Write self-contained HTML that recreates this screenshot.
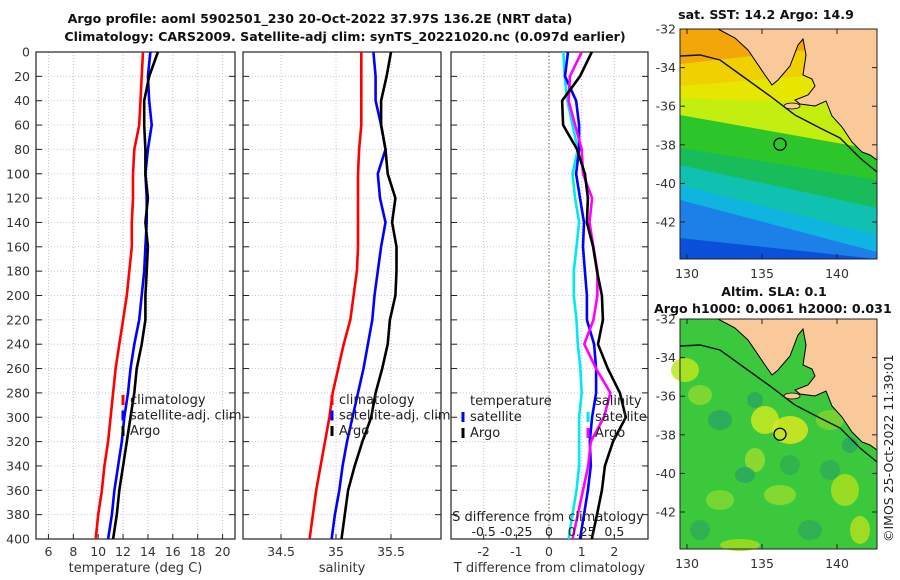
<!DOCTYPE html>
<html><head><meta charset="utf-8"><style>
body{margin:0;background:#fff}
svg{display:block;font-family:"DejaVu Sans","Liberation Sans",sans-serif}
</style></head><body>
<svg id="c" width="900" height="580" viewBox="0 0 900 580" xmlns="http://www.w3.org/2000/svg">
<g font-weight="bold" font-size="12.6" fill="#111">
<text x="320" y="23" text-anchor="middle">Argo profile: aoml 5902501_230 20-Oct-2022 37.97S 136.2E (NRT data)</text>
<text x="345" y="41" text-anchor="middle">Climatology: CARS2009. Satellite-adj clim: synTS_20221020.nc (0.097d earlier)</text>
<text x="766" y="19" text-anchor="middle">sat. SST: 14.2 Argo: 14.9</text>
<text x="774" y="296" text-anchor="middle">Altim. SLA: 0.1</text>
<text x="654" y="313">Argo h1000: 0.0061 h2000: 0.031</text>
</g>
<text transform="translate(893,542) rotate(-90)" font-size="12.5" fill="#222">©IMOS 25-Oct-2022 11:39:01</text>
</svg>
<script>
// ---- data ----
const depths=[0,20,40,60,80,100,120,140,160,180,200,220,240,260,280,300,320,340,360,380,400];
const depthTicks=[0,20,40,60,80,100,120,140,160,180,200,220,240,260,280,300,320,340,360,380,400];
const tempClim=[13.6,13.5,13.4,13.3,12.9,12.8,12.8,12.7,12.7,12.5,12.3,12.0,11.7,11.4,11.2,11.0,10.8,10.5,10.3,10.0,9.8];
const tempSat=[14.2,14.0,14.1,14.3,14.0,13.8,13.9,13.9,13.8,13.7,13.5,13.3,12.9,12.6,12.4,12.1,11.9,11.6,11.3,11.1,10.8];
const tempArgo=[14.8,14.1,13.7,13.7,13.8,13.8,14.0,13.8,14.0,13.9,13.8,13.8,13.5,13.1,12.9,12.6,12.3,12.0,11.7,11.5,11.2];
const salClim=[35.23,35.23,35.23,35.23,35.21,35.20,35.20,35.20,35.20,35.19,35.16,35.13,35.07,35.02,34.97,34.94,34.90,34.86,34.82,34.79,34.76];
const salSat=[35.34,35.36,35.36,35.41,35.45,35.38,35.40,35.45,35.41,35.38,35.35,35.33,35.29,35.25,35.20,35.15,35.10,35.06,35.03,34.99,34.96];
const salArgo=[35.50,35.46,35.41,35.41,35.45,35.47,35.54,35.51,35.55,35.55,35.54,35.49,35.47,35.42,35.36,35.32,35.24,35.17,35.11,35.08,35.05];
const tDiffSat=[0.58,0.49,0.83,0.92,0.92,0.83,0.95,1.07,1.04,1.10,1.16,1.16,1.38,1.44,1.44,1.32,1.25,1.28,1.19,1.07,0.95];
const tDiffArgo=[1.31,0.95,0.40,0.43,0.86,1.10,1.19,1.16,1.35,1.47,1.62,1.65,1.50,1.80,2.17,2.35,1.96,1.71,1.62,1.47,1.31];
const sDiffSat=[0.11,0.12,0.14,0.18,0.22,0.18,0.20,0.23,0.21,0.19,0.19,0.21,0.22,0.24,0.25,0.23,0.23,0.23,0.21,0.18,0.15];
const sDiffArgo=[0.25,0.16,0.15,0.20,0.25,0.26,0.33,0.31,0.34,0.37,0.37,0.34,0.27,0.36,0.47,0.42,0.32,0.30,0.26,0.22,0.18];
const tempTicks=[6,8,10,12,14,16,18,20];
const salTicks=[34.5,35,35.5];
const tDiffTicks=[-2,-1,0,1,2];
const sDiffTicks=[-0.5,-0.25,0,0.25,0.5];
const sDiffTickLabels=["-0.5","-0.25","0","0.25","0.5"];
const latTicks=[-32,-34,-36,-38,-40,-42];
const lonTicks=[130,135,140];
const argoLon=136.2, argoLat=-37.97;

const NS='http://www.w3.org/2000/svg';
const svg=document.getElementById('c');
function mk(tag,attrs,parent){const e=document.createElementNS(NS,tag);for(const k in attrs)e.setAttribute(k,attrs[k]);(parent||svg).appendChild(e);return e;}
const Y0=52,Y1=539;
const yScale=d=>Y0+d*(Y1-Y0)/400;
function lin(d0,d1,r0,r1){return v=>r0+(v-d0)*(r1-r0)/(d1-d0);}
const panels=[
 {name:'temperature-panel',x0:36,x1:235,sx:lin(5,21,36,235),ticks:tempTicks,labels:tempTicks.map(String),xlabel:'temperature (deg C)'},
 {name:'salinity-panel',x0:243,x1:441,sx:lin(34.1545,35.9545,243,441),ticks:salTicks,labels:salTicks.map(String),xlabel:'salinity'},
 {name:'difference-panel',x0:451,x1:648,sx:lin(-3,3.03,451,648),ticks:tDiffTicks,labels:tDiffTicks.map(String),xlabel:'T difference from climatology'}
];
panels.forEach((p,i)=>{
 const g=mk('g',{});
 
 
 p.ticks.forEach(t=>{
  const x=p.sx(t);
  const l=mk('line',{x1:x,x2:x,y1:Y0,y2:Y1,stroke:(i==2&&t==0)?'#556b2f':'#c8b8d8','stroke-width':1,'stroke-dasharray':(i==2&&t==0)?'1.5,2':'1,2'},g);
  
  
  mk('line',{x1:x,x2:x,y1:Y1,y2:Y1-5,stroke:'#222'},g);
  const tx=mk('text',{x:x,y:556,'text-anchor':'middle','font-size':12.5,fill:'#333'},g);
  tx.textContent=p.labels[p.ticks.indexOf(t)];
  
  
 });
 depthTicks.forEach(d=>{
  const y=yScale(d);
  mk('line',{x1:p.x0,x2:p.x1,y1:y,y2:y,stroke:'#c8c8e8','stroke-width':1,'stroke-dasharray':'1,2'},g);
  mk('line',{x1:p.x0,x2:p.x0+6,y1:y,y2:y,stroke:'#222'},g);
  mk('line',{x1:p.x1,x2:p.x1-6,y1:y,y2:y,stroke:'#222'},g);
  if(i==0){const t=mk('text',{x:30,y:y+4.5,'text-anchor':'end','font-size':12.5,fill:'#333'},g);t.textContent=d;
   
   }
 });
 const fr=mk('rect',{x:p.x0,y:Y0,width:p.x1-p.x0,height:Y1-Y0,fill:'none',stroke:'#222','stroke-width':1.2},g);
 
 
 const xl=mk('text',{x:(p.x0+p.x1)/2,y:572,'text-anchor':'middle','font-size':13,fill:'#333'},g);
 xl.textContent=p.xlabel;
 
 
 p.g=g;
});
function line(p,vals,color,name,sx){
 const f=sx||p.sx;
 const pts=vals.map((v,k)=>f(v).toFixed(1)+','+yScale(depths[k]).toFixed(1)).join(' ');
 const e=mk('polyline',{points:pts,fill:'none',stroke:color,'stroke-width':2.6,'stroke-linejoin':'round'},p.g);
 
 
}
line(panels[0],tempClim,'#ff0000','temp-climatology-line');
line(panels[0],tempSat,'#0000ff','temp-satellite-line');
line(panels[0],tempArgo,'#000000','temp-argo-line');
line(panels[1],salClim,'#ff0000','sal-climatology-line');
line(panels[1],salSat,'#0000ff','sal-satellite-line');
line(panels[1],salArgo,'#000000','sal-argo-line');
const sDiffScale=lin(-0.75,0.7575,451,648);
line(panels[2],sDiffSat,'#00e8f0','sdiff-satellite-line',sDiffScale);
line(panels[2],tDiffSat,'#0000ff','tdiff-satellite-line');
line(panels[2],sDiffArgo,'#ff00ff','sdiff-argo-line',sDiffScale);
line(panels[2],tDiffArgo,'#000000','tdiff-argo-line');
{const g=panels[2].g;
 const t=mk('text',{x:548,y:521,'text-anchor':'middle','font-size':13,fill:'#222'},g);t.textContent='S difference from climatology';
 
 
 sDiffTicks.forEach((v,k)=>{const e=mk('text',{x:sDiffScale(v),y:536,'text-anchor':'middle','font-size':12.5,fill:'#222'},g);e.textContent=sDiffTickLabels[k];
  
  });
}
function legend(x,entries,title){
 const g=mk('g',{});
 
 
 if(title){const t=mk('text',{x:x+7,y:405,'font-size':13,fill:'#222'},g);t.textContent=title;}
 entries.forEach(([c,lab],k)=>{
  const yy=(title?421:404)+k*(title?16:15.5);
  mk('line',{x1:x,x2:x,y1:yy-9,y2:yy+1,stroke:c,'stroke-width':3},g);
  const t=mk('text',{x:x+7,y:yy,'font-size':13,fill:'#222'},g);t.textContent=lab;
  
  
 });
}
legend(123,[['#ff0000','climatology'],['#0000ff','satellite-adj. clim'],['#000','Argo']]);
legend(332,[['#ff0000','climatology'],['#0000ff','satellite-adj. clim'],['#000','Argo']]);
legend(463,[['#0000ff','satellite'],['#000','Argo']],'temperature');
legend(588,[['#00e8f0','satellite'],['#ff00ff','Argo']],'salinity');

// ---- maps ----
const lonS=lin(129.533,142.667,680,877);
const latS=v=>29+(-32-v)*19.3;
function landPath(dy){
 const pts=[[718,29],[735,38],[748,50],[765,75],[772,85],[778,80],[790,66],[798,45],[803,39],[806,55],[803,75],[812,79],[815,86],[808,95],[795,100],[800,104],[815,106],[826,101],[832,116],[842,127],[852,142],[862,152],[870,155],[877,160],[877,29]];
 return 'M'+pts.map(p=>p[0]+','+(p[1]+dy)).join(' L')+' Z';
}
function shelfPath(dy){
 const pts=[[680,56],[700,55],[720,60],[745,78],[770,96],[795,115],[820,128],[840,138],[860,158],[877,172]];
 return 'M'+pts.map(p=>p[0]+','+(p[1]+dy)).join(' L');
}
function band(g,yl,yr,color,y1){
 mk('path',{d:`M680,${yl} L877,${yr} L877,${y1} L680,${y1} Z`,fill:color},g);
}
function mapFrame(g,dy){
 mk('path',{d:landPath(dy),fill:'#f9c99a',stroke:'#000','stroke-width':1},g);
 mk('ellipse',{cx:792,cy:106+dy,rx:8,ry:3,fill:'#f9c99a',stroke:'#000','stroke-width':0.8},g);
 mk('path',{d:shelfPath(dy),fill:'none',stroke:'#111','stroke-width':1.4},g);
 const c=mk('circle',{cx:lonS(argoLon),cy:latS(argoLat)+dy,r:6,fill:'none',stroke:'#000','stroke-width':1.3},g);
 
 
 mk('rect',{x:680,y:29+dy,width:197,height:230,fill:'none',stroke:'#222','stroke-width':1},g);
 latTicks.forEach(v=>{const y=latS(v)+dy;
  mk('line',{x1:680,x2:685,y1:y,y2:y,stroke:'#222'},g);
  mk('line',{x1:877,x2:872,y1:y,y2:y,stroke:'#222'},g);
  const t=mk('text',{x:676,y:y+4.5,'text-anchor':'end','font-size':12.5,fill:'#333'},g);t.textContent=v;
  
  });
 lonTicks.forEach(v=>{const x=lonS(v);
  mk('line',{x1:x,x2:x,y1:259+dy,y2:254+dy,stroke:'#222'},g);
  mk('line',{x1:x,x2:x,y1:29+dy,y2:34+dy,stroke:'#222'},g);
  const t=mk('text',{x:x,y:278+dy,'text-anchor':'middle','font-size':12.5,fill:'#333'},g);t.textContent=v;
  
  });
}
{const g=mk('g',{});
 
 
 mk('rect',{x:680,y:29,width:197,height:230,fill:'#f2a60a'},g);
 band(g,64,42,'#f0d000',259);
 band(g,86,70,'#e6e600',259);
 band(g,98,105,'#c4ee10',259);
 band(g,115,150,'#2cc62c',259);
 band(g,148,180,'#18bc5a',259);
 band(g,165,208,'#10c0b0',259);
 band(g,185,235,'#10b4e0',259);
 band(g,200,252,'#1c80e8',259);
 band(g,238,259,'#0a50d8',259);
 mapFrame(g,0);}
{const g=mk('g',{});
 
 
 mk('rect',{x:680,y:319,width:197,height:230,fill:'#3cc83c'},g);
 [[685,370,14,12,'#b8e820'],[765,420,14,14,'#c8ea20'],[790,430,18,14,'#d8e820'],[700,395,12,10,'#88d830'],[755,460,10,12,'#98dc30'],[720,500,14,10,'#80d830'],[780,495,16,10,'#90da30'],[845,490,14,16,'#a8e020'],[830,420,14,10,'#7cd430'],[860,530,10,14,'#b0e020'],[740,545,20,6,'#a0dc20'],
  [720,420,12,10,'#2aa860'],[755,400,8,8,'#2aa860'],[790,465,10,10,'#30b050'],[745,475,10,8,'#2aa860'],[830,470,10,10,'#30ac58'],[850,445,8,8,'#2aa860'],[810,530,12,10,'#30ac58'],[700,530,10,10,'#30ac58']]
 .forEach(b=>mk('ellipse',{cx:b[0],cy:b[1],rx:b[2],ry:b[3],fill:b[4],opacity:0.85},g));
 mapFrame(g,290);}
</script>
</body></html>
